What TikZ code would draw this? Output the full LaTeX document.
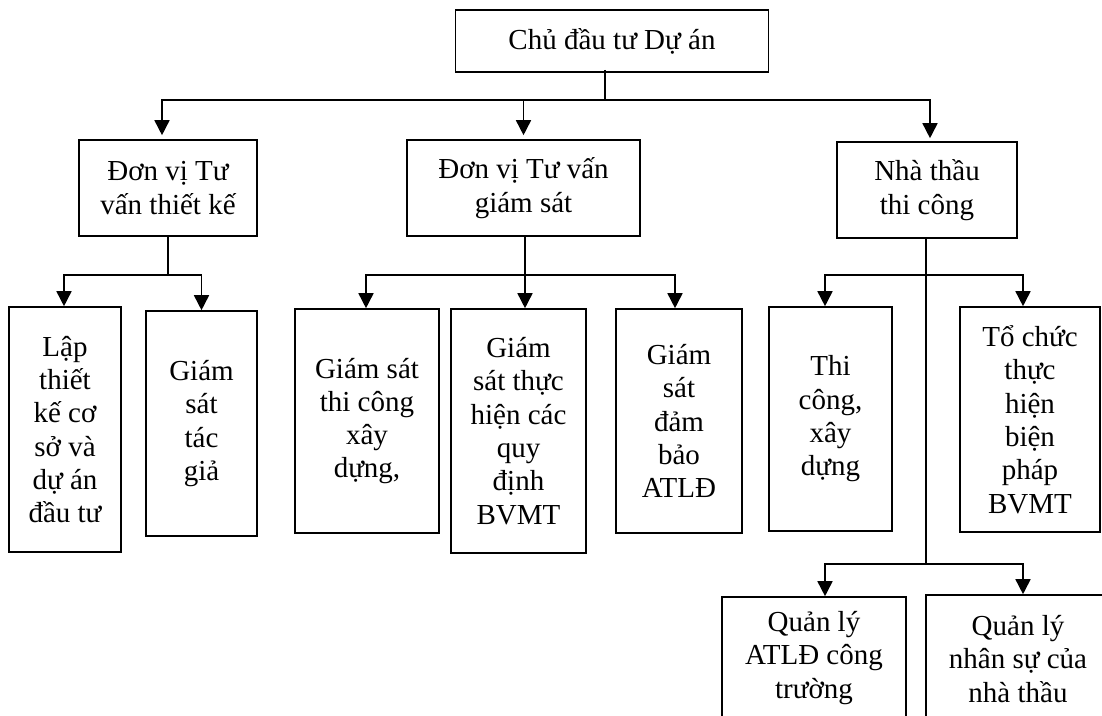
\documentclass[tikz,border=0pt]{standalone}
\usepackage{fontspec}
\setmainfont{Liberation Serif}
\usetikzlibrary{arrows.meta}
\newcommand\diagfont{\fontsize{29}{33.3}\selectfont}
\begin{document}
\begin{tikzpicture}[x=1pt,y=-1pt,
  box/.style={draw, line width=1.6pt, inner sep=0pt, align=center, font=\diagfont},
  link/.style={line width=1.6pt},
  arr/.style={line width=1.6pt, -{Triangle[length=15pt,width=15pt]}}]
\useasboundingbox (0,0) rectangle (1102,715);
\clip (0,0) rectangle (1102,715);
% level 1
\node[box, minimum width=313pt, minimum height=62pt] (top) at (612,41) {Chủ đầu tư Dự án};
% level 2
\node[box, minimum width=178pt, minimum height=96pt] (b1) at (168,188) {Đơn vị Tư\\vấn thiết kế};
\node[box, minimum width=233pt, minimum height=96pt] (b2) at (523.5,188) {Đơn vị Tư vấn\\giám sát};
\node[box, minimum width=180pt, minimum height=96pt] (b3) at (927,190) {Nhà thầu\\thi công};
% level 3
\node[box, minimum width=112pt, minimum height=245pt] (l1) at (65,429.5) {Lập\\thiết\\kế cơ\\sở và\\dự án\\đầu tư};
\node[box, minimum width=111pt, minimum height=225pt] (l2) at (201.5,423.5) {Giám\\sát\\tác\\giả};
\node[box, minimum width=144pt, minimum height=224pt] (l3) at (367,421) {Giám sát\\thi công\\xây\\dựng,};
\node[box, minimum width=135pt, minimum height=244pt] (l4) at (518.5,431) {Giám\\sát thực\\hiện các\\quy\\định\\BVMT};
\node[box, minimum width=126pt, minimum height=224pt] (l5) at (679,421) {Giám\\sát\\đảm\\bảo\\ATLĐ};
\node[box, minimum width=123pt, minimum height=224pt] (l6) at (830.5,419) {Thi\\công,\\xây\\dựng};
\node[box, minimum width=140pt, minimum height=225pt] (l7) at (1030,419.5) {Tổ chức\\thực\\hiện\\biện\\pháp\\BVMT};
% level 4
\node[box, minimum width=184pt, minimum height=122pt] (m1) at (814,658) {Quản lý\\ATLĐ công\\trường};
\node[box, minimum width=184pt, minimum height=128pt] (m2) at (1018,659) {Quản lý\\nhân sự của\\nhà thầu};
% junctions
\coordinate (j0) at (605,100);
\coordinate (j1) at (168,275);
\coordinate (j2) at (525,275);
\coordinate (j3) at (926,275);
\coordinate (j4) at (926,564);
% connectors
\draw[link] ([yshift=3pt]j0 |- top.south) -- (j0);
\draw[arr, shorten >=4pt] (j0) -| ([xshift=-6pt]b1.north);
\draw[arr, shorten >=4pt] (j0) -| (b2.north);
\draw[arr, shorten >=3pt] (j0) -| ([xshift=3pt]b3.north);
\draw[link] (b1.south) -- (j1);
\draw[arr] (j1) -| ([xshift=-1pt]l1.north);
\draw[arr] (j1) -| (l2.north);
\draw[link] (j2 |- b2.south) -- (j2);
\draw[arr] (j2) -| ([xshift=-1pt]l3.north);
\draw[arr] (j2) -| ([xshift=6.5pt]l4.north);
\draw[arr] (j2) -| ([xshift=-4pt]l5.north);
\draw[link] (j3 |- b3.south) -- (j4);
\draw[arr] (j3) -| ([xshift=-5.5pt]l6.north);
\draw[arr] (j3) -| ([xshift=-7pt]l7.north);
\draw[arr] (j4) -| ([xshift=11pt]m1.north);
\draw[arr] (j4) -| ([xshift=5pt]m2.north);
\end{tikzpicture}
\end{document}
